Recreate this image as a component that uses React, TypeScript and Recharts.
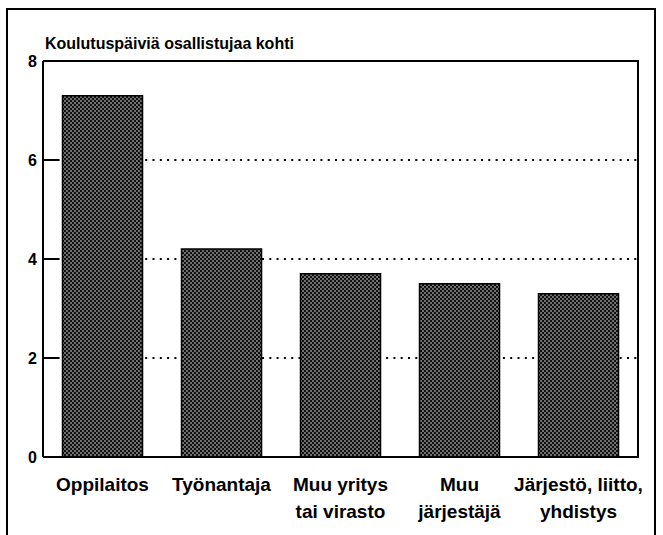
import React from 'react';
import { BarChart, Bar, XAxis, YAxis, CartesianGrid } from 'recharts';

const categories = ['Oppilaitos', 'Työnantaja', 'Muu yritys\ntai virasto', 'Muu\njärjestäjä', 'Järjestö, liitto,\nyhdistys'];
const days = [7.3, 4.2, 3.7, 3.5, 3.3];
const yTicks = [0, 2, 4, 6, 8];

const data = categories.map((name, i) => ({ name, days: days[i] }));

const FONT = '"Liberation Sans", Arial, Helvetica, sans-serif';

// plot box, used for the top/right border of the plot
const PLOT = { left: 43, top: 61, right: 25, bottom: 78 };

const XTick = (props: any) => {
  const { x, y, payload } = props;
  const lines = String(payload.value).split('\n');
  return (
    <text textAnchor="middle" fontSize={19} fontWeight="bold" fontFamily={FONT} fill="#000">
      {lines.map((l, i) => (
        <tspan key={i} x={x} y={y + 34 + i * 27}>{l}</tspan>
      ))}
    </text>
  );
};

export default function App() {
  return (
    <div style={{ position: 'absolute', left: 0, top: 0, width: 663, height: 535, overflow: 'hidden', background: '#fff' }}>
      <div
        style={{
          position: 'absolute', left: 6, top: 8, width: 646, height: 560,
          borderLeft: '2px solid #000', borderTop: '2px solid #000', borderRight: '2px solid #000',
        }}
      />
      <div
        style={{
          position: 'absolute', left: 45, top: 35, fontFamily: FONT, fontWeight: 'bold', fontSize: 16, color: '#000', whiteSpace: 'nowrap',
        }}
      >
        Koulutuspäiviä osallistujaa kohti
      </div>
      <div style={{ position: 'absolute', left: 0, top: 0 }}>
        <BarChart width={663} height={535} data={data} margin={{ top: PLOT.top, right: PLOT.right, left: 0, bottom: 0 }} barCategoryGap="16.4%">
          <defs>
            <pattern id="dots" width={4} height={4} patternUnits="userSpaceOnUse">
              <rect width={4} height={4} fill="#111" />
              <circle cx={1} cy={1} r={0.75} fill="#fff" />
              <circle cx={3} cy={3} r={0.75} fill="#fff" />
            </pattern>
          </defs>
          <CartesianGrid vertical={false} stroke="#000" strokeWidth={2} strokeDasharray="2 5.3" />
          <Bar dataKey="days" fill="url(#dots)" stroke="#000" strokeWidth={1.5} isAnimationActive={false} />
          <XAxis
            dataKey="name"
            height={PLOT.bottom}
            tickLine={false}
            tickSize={0}
            tickMargin={0}
            axisLine={{ stroke: '#000', strokeWidth: 2 }}
            tick={<XTick />}
            interval={0}
          />
          <YAxis
            width={PLOT.left}
            domain={[0, 8]}
            ticks={yTicks}
            tickSize={-16}
            tickMargin={22}
            tickLine={{ stroke: '#000', strokeWidth: 2 }}
            axisLine={{ stroke: '#000', strokeWidth: 2 }}
            tick={{ fontSize: 16, fontWeight: 'bold', fontFamily: FONT, fill: '#000' }}
            interval={0}
          />
        </BarChart>
      </div>
      <div
        style={{
          position: 'absolute', left: PLOT.left, top: PLOT.top - 1, width: 663 - PLOT.left - PLOT.right - 1,
          height: 535 - PLOT.top - PLOT.bottom, borderTop: '2px solid #000', borderRight: '2px solid #000', pointerEvents: 'none',
        }}
      />
    </div>
  );
}
